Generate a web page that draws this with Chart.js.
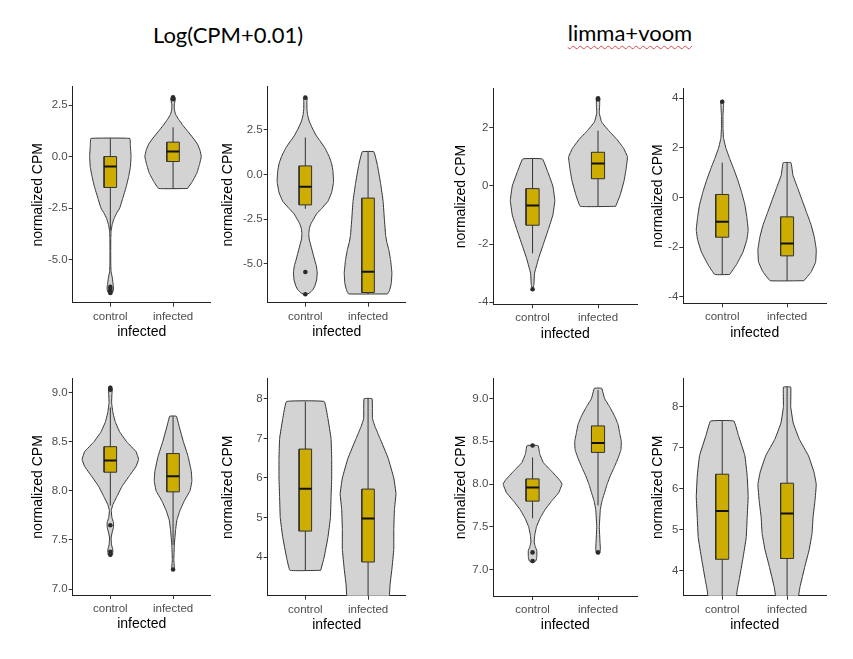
<!DOCTYPE html>
<html>
<head>
<meta charset="utf-8">
<script src="https://cdn.jsdelivr.net/npm/chart.js@4.4.1/dist/chart.umd.min.js"></script>
<style>
body { margin: 0; background: #fff; }
#page { position: relative; width: 853px; height: 659px; overflow: hidden; background: #fff; }
.title { position: absolute; font-family: Lato, 'Noto Sans', sans-serif; font-size: 22px; line-height: 22px; color: #000; transform: translateX(-50%); white-space: nowrap; }
.spell { text-decoration: underline wavy #e04848; text-decoration-thickness: 1px; text-underline-offset: 4px; text-decoration-skip-ink: none; }
canvas { position: absolute; }
</style>
</head>
<body>
<div id="page">
  <div class="title" style="left:228px; top:24px;">Log(CPM+0.01)</div>
  <div class="title" style="left:630px; top:22px;"><span class="spell">limma+voom</span></div>
</div>
<script>
const categories = ['control', 'infected']

// violin profiles: [value, half width in category units], bottom -> top
// boxes: [lower whisker, q1, median, q3, upper whisker]

// top row, Log(CPM+0.01), left
const p1CtrlViolin = [[-6.64,0],[-6.58,0.04],[-6.45,0.05],[-6.3,0.05],[-6.1,0.04],[-5.85,0.03],[-5.6,0.012],[-5.2,0.007],[-4.6,0.006],[-4.0,0.007],[-3.6,0.012],[-3.3,0.03],[-3.0,0.06],[-2.75,0.1],[-2.5,0.15],[-2.0,0.2],[-1.5,0.25],[-1.0,0.29],[-0.5,0.32],[0,0.33],[0.5,0.32],[0.88,0.31]]
const p1InfViolin = [[-1.55,0.23],[-1.2,0.31],[-0.8,0.38],[-0.4,0.42],[0,0.45],[0.3,0.43],[0.6,0.39],[0.9,0.32],[1.2,0.24],[1.5,0.16],[1.8,0.09],[2.05,0.04],[2.3,0.02],[2.55,0.02],[2.75,0.035],[2.87,0.03],[2.9,0]]
const p1CtrlBox = [-3.6, -1.5, -0.48, 0.0, 0.88]
const p1InfBox = [-1.55, -0.24, 0.24, 0.7, 1.42]
const p1CtrlOut = [-6.32, -6.42, -6.5, -6.58, -6.62]
const p1InfOut = [2.78, 2.83, 2.87]
const p1Ticks = [-5, -2.5, 0, 2.5]

// top row, Log(CPM+0.01), right
const p2CtrlViolin = [[-6.74,0],[-6.62,0.07],[-6.45,0.12],[-6.25,0.15],[-5.9,0.18],[-5.5,0.19],[-5.1,0.175],[-4.8,0.15],[-4.4,0.12],[-4.0,0.09],[-3.6,0.06],[-3.3,0.055],[-3.0,0.065],[-2.75,0.09],[-2.5,0.13],[-2.2,0.18],[-1.9,0.26],[-1.5,0.36],[-1.0,0.42],[-0.4,0.45],[0.2,0.44],[0.6,0.42],[1.0,0.38],[1.5,0.31],[1.9,0.23],[2.2,0.17],[2.6,0.11],[3.0,0.06],[3.35,0.035],[3.7,0.025],[4.1,0.025],[4.28,0.03],[4.33,0]]
const p2InfViolin = [[-6.68,0.31],[-6.5,0.34],[-6.1,0.37],[-5.5,0.38],[-4.8,0.36],[-4.2,0.33],[-3.8,0.3],[-3.4,0.28],[-2.5,0.26],[-1.5,0.24],[-0.5,0.2],[0.5,0.15],[1.27,0.093]]
const p2CtrlBox = [-1.92, -1.7, -0.68, 0.48, 2.07]
const p2InfBox = [-6.68, -6.6, -5.44, -1.32, 1.27]
const p2CtrlOut = [-5.45, -6.7, 4.3]
const p2InfOut = []
const p2Ticks = [-5, -2.5, 0, 2.5]

// top row, limma+voom, left
const p3CtrlViolin = [[-3.56,0],[-3.4,0.02],[-3.0,0.03],[-2.75,0.06],[-2.5,0.09],[-2.0,0.165],[-1.5,0.24],[-1.0,0.31],[-0.5,0.34],[0,0.31],[0.5,0.23],[0.93,0.15]]
const p3InfViolin = [[-0.7,0.27],[-0.3,0.34],[0.2,0.4],[0.6,0.43],[1.0,0.45],[1.3,0.39],[1.6,0.29],[1.9,0.165],[2.2,0.055],[2.5,0.02],[2.8,0.025],[2.95,0.025],[3.02,0]]
const p3CtrlBox = [-2.32, -1.35, -0.67, -0.09, 0.93]
const p3InfBox = [-0.7, 0.25, 0.77, 1.16, 1.9]
const p3CtrlOut = [-3.55]
const p3InfOut = [2.98, 3.02]
const p3Ticks = [-4, -2, 0, 2]

// top row, limma+voom, right
const p4CtrlViolin = [[-3.1,0.115],[-2.7,0.22],[-2.2,0.32],[-1.7,0.38],[-1.3,0.4],[-0.8,0.38],[-0.3,0.35],[0.2,0.3],[0.7,0.24],[1.2,0.17],[1.6,0.11],[2.0,0.055],[2.4,0.02],[2.8,0.012],[3.3,0.012],[3.7,0.02],[3.88,0.02],[3.92,0]]
const p4InfViolin = [[-3.35,0.26],[-3.0,0.37],[-2.6,0.44],[-2.1,0.45],[-1.6,0.42],[-1.1,0.37],[-0.6,0.3],[-0.1,0.23],[0.4,0.16],[0.9,0.09],[1.4,0.06]]
const p4CtrlBox = [-3.1, -1.6, -0.98, 0.12, 1.4]
const p4InfBox = [-3.35, -2.35, -1.85, -0.78, 1.4]
const p4CtrlOut = [3.85]
const p4InfOut = []
const p4Ticks = [-4, -2, 0, 2, 4]

// bottom row, Log(CPM+0.01), left
const p5CtrlViolin = [[7.33,0],[7.35,0.035],[7.4,0.04],[7.45,0.02],[7.52,0.012],[7.58,0.03],[7.63,0.05],[7.68,0.05],[7.73,0.025],[7.8,0.015],[7.86,0.04],[7.95,0.11],[8.05,0.19],[8.15,0.3],[8.25,0.41],[8.32,0.45],[8.4,0.41],[8.5,0.26],[8.6,0.15],[8.7,0.08],[8.8,0.04],[8.9,0.02],[8.98,0.025],[9.04,0.03],[9.07,0]]
const p5InfViolin = [[7.19,0],[7.22,0.02],[7.3,0.012],[7.45,0.02],[7.6,0.04],[7.7,0.06],[7.8,0.11],[7.9,0.18],[8.0,0.27],[8.1,0.3],[8.2,0.29],[8.35,0.24],[8.5,0.165],[8.65,0.1],[8.76,0.053]]
const p5CtrlBox = [7.85, 8.19, 8.31, 8.45, 8.85]
const p5InfBox = [7.45, 7.99, 8.15, 8.38, 8.76]
const p5CtrlOut = [9.05, 9.03, 7.65, 7.38, 7.35]
const p5InfOut = [7.2]
const p5Ticks = [7, 7.5, 8, 8.5, 9]

// bottom row, Log(CPM+0.01), right
const p6CtrlViolin = [[3.67,0.245],[4.0,0.3],[4.5,0.36],[5.0,0.4],[5.5,0.41],[6.0,0.42],[6.5,0.42],[7.0,0.41],[7.5,0.36],[7.93,0.3]]
const p6InfViolin = [[2.7,0.32],[3.0,0.34],[3.3,0.35],[3.7,0.38],[4.2,0.41],[4.7,0.41],[5.2,0.42],[5.6,0.445],[6.0,0.41],[6.5,0.32],[7.0,0.19],[7.3,0.11],[7.5,0.07],[8.0,0.064]]
const p6CtrlBox = [3.67, 4.66, 5.73, 6.73, 7.93]
const p6InfBox = [2.7, 3.88, 4.98, 5.72, 8.0]
const p6CtrlOut = []
const p6InfOut = []
const p6Ticks = [4, 5, 6, 7, 8]

// bottom row, limma+voom, left
const p7CtrlViolin = [[7.08,0],[7.1,0.05],[7.15,0.065],[7.22,0.065],[7.27,0.04],[7.32,0.025],[7.4,0.033],[7.5,0.06],[7.6,0.115],[7.7,0.19],[7.8,0.29],[7.9,0.4],[8.0,0.45],[8.05,0.41],[8.15,0.29],[8.25,0.165],[8.35,0.11],[8.45,0.084]]
const p7InfViolin = [[7.18,0],[7.2,0.03],[7.25,0.035],[7.32,0.03],[7.5,0.02],[7.7,0.035],[7.8,0.06],[7.9,0.1],[8.0,0.14],[8.1,0.19],[8.2,0.25],[8.3,0.305],[8.4,0.35],[8.5,0.356],[8.6,0.33],[8.7,0.305],[8.8,0.25],[8.9,0.18],[9.0,0.1],[9.12,0.056]]
const p7CtrlBox = [7.6, 7.8, 7.96, 8.06, 8.31]
const p7InfBox = [7.75, 8.37, 8.48, 8.68, 9.1]
const p7CtrlOut = [8.45, 7.2, 7.1]
const p7InfOut = [7.2]
const p7Ticks = [7, 7.5, 8, 8.5, 9]

// bottom row, limma+voom, right
const p8CtrlViolin = [[3.0,0.19],[3.5,0.23],[3.8,0.265],[4.3,0.32],[4.8,0.37],[5.3,0.385],[5.8,0.4],[6.3,0.385],[6.8,0.35],[7.3,0.25],[7.65,0.18]]
const p8InfViolin = [[3.0,0.15],[3.3,0.17],[3.6,0.2],[4.1,0.275],[4.5,0.34],[4.9,0.385],[5.3,0.4],[5.7,0.43],[6.1,0.45],[6.4,0.415],[6.8,0.33],[7.2,0.19],[7.6,0.095],[8.0,0.056],[8.48,0.056]]
const p8CtrlBox = [3.0, 4.27, 5.45, 6.35, 7.65]
const p8InfBox = [3.0, 4.29, 5.39, 6.13, 8.48]
const p8CtrlOut = []
const p8InfOut = []
const p8Ticks = [4, 5, 6, 7, 8]

// layout: plot area in page pixels, y range, y-title distance from axis
const panels = [
    {area: [72.7, 210.7, 85, 302.7], yMin: -7.09, yMax: 3.38, dec: 1, titleOff: 34.7, ticks: p1Ticks, ctrl: [p1CtrlViolin, p1CtrlBox, p1CtrlOut], inf: [p1InfViolin, p1InfBox, p1InfOut]},
    {area: [267.7, 405.7, 85, 302.7], yMin: -7.17, yMax: 4.9, dec: 1, titleOff: 39.4, ticks: p2Ticks, ctrl: [p2CtrlViolin, p2CtrlBox, p2CtrlOut], inf: [p2InfViolin, p2InfBox, p2InfOut]},
    {area: [493.3, 637.3, 86.7, 304.3], yMin: -4.07, yMax: 3.34, dec: 0, titleOff: 31.6, ticks: p3Ticks, ctrl: [p3CtrlViolin, p3CtrlBox, p3CtrlOut], inf: [p3InfViolin, p3InfBox, p3InfOut]},
    {area: [683.3, 826, 86.7, 303.3], yMin: -4.26, yMax: 4.37, dec: 0, titleOff: 25, ticks: p4Ticks, ctrl: [p4CtrlViolin, p4CtrlBox, p4CtrlOut], inf: [p4InfViolin, p4InfBox, p4InfOut]},
    {area: [72.7, 210.7, 376.7, 595], yMin: 6.94, yMax: 9.14, dec: 1, titleOff: 34.4, ticks: p5Ticks, ctrl: [p5CtrlViolin, p5CtrlBox, p5CtrlOut], inf: [p5InfViolin, p5InfBox, p5InfOut]},
    {area: [267.7, 405.7, 376.7, 595.7], yMin: 3.03, yMax: 8.5, dec: 0, titleOff: 39.4, ticks: p6Ticks, ctrl: [p6CtrlViolin, p6CtrlBox, p6CtrlOut], inf: [p6InfViolin, p6InfBox, p6InfOut]},
    {area: [493.3, 637.3, 377.3, 596], yMin: 6.69, yMax: 9.23, dec: 1, titleOff: 31.6, ticks: p7Ticks, ctrl: [p7CtrlViolin, p7CtrlBox, p7CtrlOut], inf: [p7InfViolin, p7InfBox, p7InfOut]},
    {area: [683.3, 826, 377.3, 595.7], yMin: 3.38, yMax: 8.68, dec: 0, titleOff: 25, ticks: p8Ticks, ctrl: [p8CtrlViolin, p8CtrlBox, p8CtrlOut], inf: [p8InfViolin, p8InfBox, p8InfOut]},
]

const lineColor = '#333333'
const violinFill = '#d3d3d3'
const boxFill = '#cdad00'
const tickFont = {family: "'Liberation Sans', Arial, sans-serif", size: 11.5}
const titleFont = {family: "'Liberation Sans', Arial, sans-serif", size: 14, lineHeight: 1.2}

const violinPoints = (profile, c) => {
    let right = profile.map(([y, w]) => ({x: c + w, y}))
    let left = profile.slice().reverse().map(([y, w]) => ({x: c - w, y}))
    return [...right, ...left, right[0]]
}

const groupDatasets = (c, [violin, box, outliers]) => {
    const [lo, q1, med, q3, hi] = box
    const bw = 0.1
    return [
        {type: 'line', data: violinPoints(violin, c), fill: 'shape', backgroundColor: violinFill, borderColor: lineColor, borderWidth: 1, pointRadius: 0, tension: 0.08, order: 5},
        {type: 'line', data: [{x: c, y: lo}, {x: c, y: hi}], fill: false, borderColor: lineColor, borderWidth: 1, pointRadius: 0, order: 4},
        {type: 'line', data: [{x: c - bw, y: q1}, {x: c + bw, y: q1}, {x: c + bw, y: q3}, {x: c - bw, y: q3}, {x: c - bw, y: q1}], fill: 'shape', backgroundColor: boxFill, borderColor: lineColor, borderWidth: 1, pointRadius: 0, order: 3},
        {type: 'line', data: [{x: c - bw, y: med}, {x: c + bw, y: med}], fill: false, borderColor: '#111111', borderWidth: 2, pointRadius: 0, order: 2},
        {type: 'scatter', data: outliers.map(y => ({x: c, y})), pointRadius: 2.3, backgroundColor: '#2b2b2b', borderWidth: 0, order: 1},
    ]
}

const generateViolinChart = (panel) => {
    const [l, r, t, b] = panel.area
    const cl = Math.round(l - panel.titleOff - titleFont.size * 0.6)
    const ct = Math.round(t - 6)
    const cw = Math.ceil(r + 6 - cl)
    const ch = Math.ceil(b + 38 - ct)
    const yWidth = l - cl
    const xHeight = ch - (b - ct)

    let canvas = document.createElement('canvas')
    canvas.width = cw
    canvas.height = ch
    canvas.style.left = cl + 'px'
    canvas.style.top = ct + 'px'
    canvas.style.width = cw + 'px'
    canvas.style.height = ch + 'px'
    document.getElementById('page').appendChild(canvas)

    let chart = new Chart(canvas, {
        type: 'scatter',
        data: {
            datasets: [...groupDatasets(1, panel.ctrl), ...groupDatasets(2, panel.inf)]
        },
        options: {
            responsive: false,
            animation: false,
            devicePixelRatio: 1,
            events: [],
            layout: {
                padding: {left: 0, top: t - ct, right: cw - (r - cl), bottom: 0}
            },
            plugins: {
                legend: {display: false},
                tooltip: {enabled: false}
            },
            scales: {
                x: {
                    type: 'linear',
                    min: 0.4,
                    max: 2.6,
                    afterBuildTicks: s => { s.ticks = categories.map((_, i) => ({value: i + 1})) },
                    afterFit: s => { s.height = xHeight },
                    ticks: {
                        callback: v => categories[v - 1],
                        font: tickFont,
                        color: '#4d4d4d',
                        padding: 3,
                        autoSkip: false,
                        maxRotation: 0
                    },
                    grid: {drawOnChartArea: false, drawTicks: true, tickLength: 4, color: lineColor},
                    border: {display: true, color: '#222222', width: 1},
                    title: {display: true, text: 'infected', font: titleFont, color: '#000', padding: 0}
                },
                y: {
                    type: 'linear',
                    min: panel.yMin,
                    max: panel.yMax,
                    afterBuildTicks: s => { s.ticks = panel.ticks.map(v => ({value: v})) },
                    afterFit: s => { s.width = yWidth },
                    ticks: {
                        callback: v => v.toFixed(panel.dec),
                        font: tickFont,
                        color: '#4d4d4d',
                        padding: 1,
                        autoSkip: false
                    },
                    grid: {drawOnChartArea: false, drawTicks: true, tickLength: 4, color: lineColor},
                    border: {display: true, color: '#222222', width: 1},
                    title: {display: true, text: 'normalized CPM', font: titleFont, color: '#000', padding: 0}
                }
            }
        }
    })
    return chart
}

panels.forEach(p => generateViolinChart(p))
</script>
</body>
</html>
